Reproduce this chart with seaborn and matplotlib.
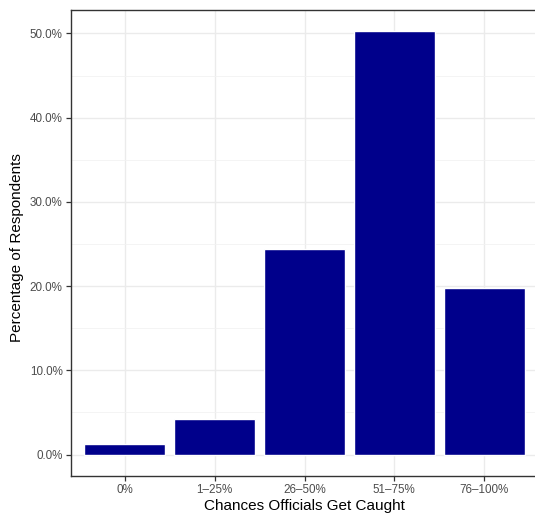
import matplotlib
matplotlib.use("Agg")
import matplotlib.pyplot as plt
import seaborn as sns
import pandas as pd
from matplotlib.ticker import FuncFormatter, MultipleLocator

categories = ["0%", "1–25%", "26–50%", "51–75%", "76–100%"]
percentages = [1.30, 4.26, 24.46, 50.33, 19.76]

df = pd.DataFrame({"cat": categories, "pct": percentages})

sns.set_theme(style="white")
plt.rcParams["font.family"] = ["Liberation Sans", "DejaVu Sans"]

fig = plt.figure(figsize=(5.35, 5.17), dpi=100)
W, H = 535, 517
left, right, top, bottom = 71, 538, 9.5, 475.7
ax = fig.add_axes([left / W, (H - bottom) / H, (right - left) / W, (bottom - top) / H])

sns.barplot(data=df, x="cat", y="pct", color="#00008B", saturation=1, width=0.9,
            ax=ax, zorder=3)

ymax = max(percentages)
ax.set_ylim(-0.05 * ymax, ymax + 0.05 * ymax)
ax.set_xlim(-0.6, len(categories) - 0.4)

ax.yaxis.set_major_locator(MultipleLocator(10))
ax.yaxis.set_minor_locator(MultipleLocator(5))
ax.yaxis.set_major_formatter(FuncFormatter(lambda v, p: f"{v:.1f}%"))

ax.set_axisbelow(True)
ax.grid(which="major", axis="both", color="#EBEBEB", linewidth=1.0, zorder=0)
ax.grid(which="minor", axis="y", color="#F2F2F2", linewidth=0.6, zorder=0)

for s in ax.spines.values():
    s.set_color("#333333")
    s.set_linewidth(1.0)
ax.spines["right"].set_visible(False)

ax.tick_params(axis="both", which="major", length=3.5, width=0.9, color="#333333",
               labelsize=8.4, labelcolor="#4D4D4D", pad=2.5, direction="out",
               left=True, bottom=True)
ax.tick_params(axis="y", which="minor", length=0)

ax.set_xlabel("Chances Officials Get Caught", fontsize=11, color="black", labelpad=2)
ax.set_ylabel("Percentage of Respondents", fontsize=11, color="black", labelpad=4)
ax.yaxis.set_label_coords(-0.1, 0.49)

fig.savefig("out.png", dpi=100, facecolor="white")
